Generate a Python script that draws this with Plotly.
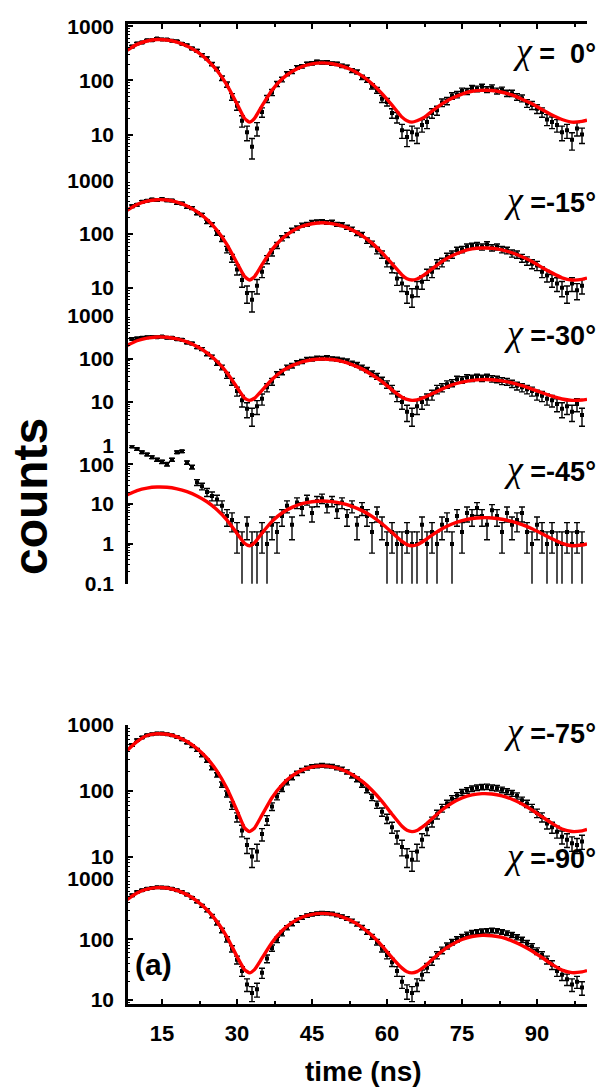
import plotly.graph_objects as go

# ---------------- data ----------------
fit_time = [8, 10, 12, 14, 16, 18, 20, 22, 24, 26, 28, 30, 31.5, 32.5, 33.5, 35, 37, 39, 41, 43,
            45, 47, 49, 51, 53, 55, 57, 59, 61, 63, 64, 65, 66, 67.5, 69, 71, 73, 75, 77, 79,
            81, 83, 85, 87, 89, 91, 93, 95, 97, 99, 100]

fit_chi0 = [357, 461, 533, 566, 557, 509, 432, 338, 241, 152, 82, 37, 20, 17, 20, 34, 66, 106, 146, 180,
            202, 210, 203, 184, 155, 121, 87, 57, 35, 21, 18, 17, 18, 21, 27, 37, 47, 56, 63, 65.5,
            65, 60.5, 54, 45, 37, 29, 23, 19, 17, 17.5, 18.4]
fit_chi15 = [276, 356, 411, 437, 430, 393, 334, 261, 186, 118, 64, 29, 16.3, 14, 16.2, 27, 51.5, 82, 113, 140,
             156, 163, 157, 142, 120, 94, 68, 45, 28, 17.4, 14.8, 14, 14.6, 17.6, 22.5, 31, 39.5, 47.4, 53, 55,
             54.5, 51, 45, 38, 31, 24, 19, 15.4, 14, 14.4, 15.2]
fit_chi30 = [205, 264, 305, 324, 319, 291, 248, 194, 139, 88, 48, 22, 12.4, 11, 12.3, 18.7, 33.4, 52, 70, 86,
             96, 100, 97, 88, 74, 59, 43, 30, 19.3, 13, 11.5, 11, 11.3, 12.9, 15.6, 20, 25, 29, 32, 33.3,
             33, 31, 28, 24, 20, 16.5, 13.7, 11.8, 11, 11.2, 11.6]
fit_chi45 = [16.9, 21.8, 25.2, 26.7, 26.3, 24, 20.4, 16, 11.4, 7.2, 3.96, 1.83, 1.04, 0.9, 1.07, 1.86, 3.68, 5.96, 8.25, 10.2,
             11.4, 11.9, 11.5, 10.4, 8.74, 6.83, 4.9, 3.21, 1.93, 1.15, 0.96, 0.9, 0.95, 1.22, 1.65, 2.39, 3.15, 3.85, 4.33, 4.54,
             4.48, 4.16, 3.65, 3.03, 2.39, 1.8, 1.34, 1.03, 0.9, 0.94, 1.0]
fit_chi75 = [410, 560, 695, 738, 726, 664, 563, 441, 315, 199.5, 108.5, 50, 27.4, 24, 27.2, 42.8, 78.5, 123.5, 168.5, 206.6,
             231, 240, 232, 210.5, 178, 140.5, 102.4, 69.4, 44.2, 28.9, 25.1, 24, 25, 29.8, 37.75, 51.2, 65.25, 78, 86.8, 90.7,
             89.6, 83.8, 74.5, 63, 51.2, 40.5, 32, 26.3, 24.1, 24.7, 25.9]
fit_chi90 = [450, 579, 668, 709, 698, 638, 543, 426, 306, 195, 109, 52, 31.7, 28, 31.6, 48.8, 88.4, 138, 188, 230,
             257, 267, 259, 234.5, 199, 157, 115, 78, 50, 33.5, 29.2, 28, 29.3, 35.6, 46, 64, 82, 99, 111, 116,
             114, 107, 94, 79, 64, 50, 38.5, 31, 28.2, 29, 30.5]

data_time = [9, 10, 11, 12, 13, 14, 15, 16, 17, 18, 19, 20, 21, 22, 23, 24, 25, 26, 27, 28,
             29, 30, 31, 32, 33, 34, 35, 36, 37, 38, 39, 40, 41, 42, 43, 44, 45, 46, 47, 48,
             49, 50, 51, 52, 53, 54, 55, 56, 57, 58, 59, 60, 61, 62, 63, 64, 65, 66, 67, 68,
             69, 70, 71, 72, 73, 74, 75, 76, 77, 78, 79, 80, 81, 82, 83, 84, 85, 86, 87, 88,
             89, 90, 91, 92, 93, 94, 95, 96, 97, 98, 99]

data_chi0 = [420, 478, 500, 548, 552, 590, 570, 566, 538, 525,
             474, 445, 388, 352, 292, 255, 200, 163, 110, 84,
             50, 34, 18, 11, 6, 13, 26, 46, 60, 86,
             104, 133, 146, 174, 182, 202, 206, 220, 214, 215,
             205, 202, 186, 178, 152, 143, 114, 102, 78, 66,
             46, 40, 25, 21, 12, 9, 11, 10, 15, 17,
             25, 28, 39, 42, 52, 55, 64, 63, 72, 70,
             76, 68, 74, 64, 67, 58, 58, 50, 47, 38,
             35, 30, 26, 19, 17, 15, 11, 12, 8, 13,
             10]
data_chi15 = [330, 350, 400, 418, 440, 430, 448, 425, 420, 380,
              372, 320, 305, 245, 228, 170, 150, 105, 82, 52,
              36, 22, 14, 8, 6, 11, 20, 34, 46, 62,
              84, 96, 118, 130, 148, 152, 166, 170, 172, 165,
              168, 152, 150, 135, 124, 104, 98, 76, 66, 50,
              42, 30, 24, 15, 12, 8, 7, 10, 13, 18,
              20, 28, 30, 38, 42, 50, 52, 58, 60, 62,
              58, 64, 56, 58, 52, 50, 44, 42, 36, 32,
              28, 26, 20, 17, 14, 12, 10, 8, 12, 9,
              11]
data_chi30 = [292, 300, 312, 318, 325, 318, 330, 312, 310, 288,
              280, 240, 228, 188, 170, 130, 112, 80, 64, 42,
              30, 18, 11, 7, 5, 8, 12, 22, 30, 44,
              50, 64, 70, 82, 88, 98, 100, 106, 104, 108,
              102, 100, 94, 90, 80, 74, 64, 56, 46, 40,
              32, 26, 20, 14, 10, 6, 5, 8, 10, 12,
              15, 20, 22, 26, 28, 34, 33, 37, 36, 38,
              36, 38, 35, 34, 31, 30, 27, 24, 22, 20,
              18, 15, 14, 12, 11, 9, 7, 8, 6, 9,
              5]
data_chi45 = [280, 240, 200, 175, 150, 130, 115, 100, 130, 200,
              210, 110, 85, 35, 28, 20, 16, 13, 9, 5,
              4, 2, 1, 3, 1, 1, 2, 1, 3, 2,
              5, 9, 3, 11, 8, 13, 6, 12, 14, 9,
              12, 7, 11, 5, 9, 3, 8, 5, 2, 6,
              3, 1, 2, 1, 1, 2, 1, 1, 3, 1,
              2, 1, 3, 4, 1, 5, 2, 6, 5, 8,
              5, 3, 7, 5, 2, 6, 3, 4, 6, 2,
              1, 3, 2, 1, 2, 1, 1, 2, 1, 2,
              1]
data_chi75 = [500, 590, 650, 700, 730, 748, 745, 730, 700, 660,
              610, 545, 480, 420, 350, 290, 225, 175, 125, 90,
              60, 40, 25, 15, 10, 12, 22, 36, 58, 82,
              108, 135, 160, 185, 205, 222, 235, 240, 245, 240,
              238, 225, 215, 195, 170, 150, 125, 104, 80, 62,
              48, 38, 28, 20, 14, 10, 9, 12, 18, 26,
              34, 44, 55, 64, 76, 85, 95, 102, 108, 112,
              115, 116, 112, 110, 104, 98, 92, 84, 72, 64,
              55, 46, 40, 32, 28, 24, 20, 18, 16, 15,
              17]
data_chi90 = [530, 600, 640, 680, 700, 715, 710, 705, 680, 640,
              600, 545, 480, 420, 355, 300, 240, 185, 140, 100,
              70, 46, 30, 18, 13, 15, 28, 48, 72, 98,
              125, 155, 180, 205, 228, 245, 258, 265, 270, 268,
              262, 250, 236, 220, 200, 178, 156, 132, 110, 90,
              70, 55, 42, 30, 20, 14, 13, 18, 26, 34,
              44, 55, 66, 78, 90, 100, 110, 120, 128, 132,
              136, 138, 140, 138, 132, 126, 118, 108, 98, 86,
              76, 64, 55, 46, 38, 30, 26, 22, 18, 20,
              16]

panel_labels = ["\u00a0\u00a00°", "-15°", "-30°", "-45°", "-75°", "-90°"]
x_tick_vals = [15, 30, 45, 60, 75, 90]
x_tick_text = ["15", "30", "45", "60", "75", "90"]

# ---------------- layout helpers ----------------
W, H = 602, 1090
ML, MR, MT, MB = 128, 15, 20, 86
PH = H - MT - MB
PW = W - ML - MR


def fy(px):
    return (H - MB - px) / PH


def fx(px):
    return (px - ML) / PW


panels = [
    dict(fit=fit_chi0, data=data_chi0, dom=[fy(177), 1.0], rng=[0.156, 3.04],
         tv=[10, 100, 1000], tt=["10", "100", "1000"], ly=47),
    dict(fit=fit_chi15, data=data_chi15, dom=[fy(313), fy(177)], rng=[0.48, 3.0],
         tv=[10, 100, 1000], tt=["10", "100", "1000"], ly=197),
    dict(fit=fit_chi30, data=data_chi30, dom=[fy(443), fy(313)], rng=[0.0, 3.0],
         tv=[1, 10, 100, 1000], tt=["1", "10", "100", "1000"], ly=330),
    dict(fit=fit_chi45, data=data_chi45, dom=[fy(582), fy(443)], rng=[-1.0, 2.475],
         tv=[0.1, 1, 10, 100], tt=["0.1", "1", "10", "100"], ly=467),
    dict(fit=fit_chi75, data=data_chi75, dom=[fy(878), fy(724)], rng=[0.667, 3.0],
         tv=[10, 100, 1000], tt=["10", "100", "1000"], ly=730),
    dict(fit=fit_chi90, data=data_chi90, dom=[0.0, fy(878)], rng=[0.934, 3.0],
         tv=[10, 100, 1000], tt=["10", "100", "1000"], ly=855),
]

FONT = "Liberation Sans, Arial, sans-serif"
ytickfont = dict(family=FONT, size=21, color="black", weight="bold")
xtickfont = dict(family=FONT, size=22, color="black", weight="bold")

fig = go.Figure()
layout = dict(
    width=W, height=H,
    margin=dict(l=ML, r=MR, t=MT, b=MB, pad=0),
    paper_bgcolor="white", plot_bgcolor="white",
    showlegend=False,
    font=dict(family=FONT, color="black"),
)

for i, p in enumerate(panels):
    n = i + 1
    yname = "y" if n == 1 else f"y{n}"
    fig.add_trace(go.Scatter(
        x=data_time, y=p["data"], xaxis="x", yaxis=yname, mode="markers",
        marker=dict(symbol="square", size=4, color="black"),
        error_y=dict(type="sqrt", visible=True, color="black", thickness=1.4, width=3),
        hoverinfo="skip"))
    fig.add_trace(go.Scatter(
        x=fit_time, y=p["fit"], xaxis="x", yaxis=yname, mode="lines",
        line=dict(color="#ff0000", width=3.4, shape="spline", smoothing=0.5),
        hoverinfo="skip"))
    layout["yaxis" if n == 1 else f"yaxis{n}"] = dict(
        type="log", domain=p["dom"], range=p["rng"], anchor="x",
        showline=True, linewidth=2.6, linecolor="black",
        ticks="inside", ticklen=5, tickwidth=2, tickcolor="black",
        tickmode="array", tickvals=p["tv"], ticktext=p["tt"],
        tickfont=ytickfont, ticklabelstandoff=7,
        minor=dict(ticks="inside", ticklen=2.5, tickwidth=1, tickcolor="black", dtick="D1"),
        showgrid=False, zeroline=False,
    )
    fig.add_annotation(
        xref="paper", yref="paper", x=fx(598), y=fy(p["ly"]),
        xanchor="right", yanchor="middle", showarrow=False,
        text=('<span style="font-family:Liberation Serif;font-size:36px"><i>\u03c7</i></span>'
              '<b>\u00a0=' + panel_labels[i] + '</b>'),
        font=dict(family=FONT, size=27, color="black"))

# dummy trace so the top mirror axis renders
fig.add_trace(go.Scatter(x=[50], y=[100], xaxis="x2", yaxis="y", mode="markers",
                         marker=dict(opacity=0), hoverinfo="skip"))

xcommon = dict(range=[8.2, 100], showline=True, linewidth=2.6, linecolor="black",
               ticks="inside", ticklen=5, tickwidth=2, tickcolor="black",
               tickmode="array", tickvals=x_tick_vals, ticktext=x_tick_text,
               minor=dict(ticks="inside", ticklen=3, tickwidth=1.5, tickcolor="black",
                          tickvals=[22.5, 37.5, 52.5, 67.5, 82.5, 97.5]),
               showgrid=False, zeroline=False)
layout["xaxis"] = dict(xcommon, domain=[0, 1], anchor="y6", tickfont=xtickfont,
                       ticklabelstandoff=8)
layout["xaxis2"] = dict(xcommon, overlaying="x", anchor="y", side="top",
                        showticklabels=False, matches="x")

fig.update_layout(**layout)

fig.add_annotation(xref="paper", yref="paper", x=fx(30), y=fy(495), text="<b>counts</b>",
                   textangle=-90, showarrow=False, xanchor="center", yanchor="middle",
                   font=dict(family=FONT, size=48, color="black"))
fig.add_annotation(xref="paper", yref="paper", x=fx(363), y=fy(1072), text="<b>time (ns)</b>",
                   showarrow=False, xanchor="center", yanchor="middle",
                   font=dict(family=FONT, size=28, color="black"))
fig.add_annotation(xref="paper", yref="paper", x=fx(153), y=fy(964), text="<b>(a)</b>",
                   showarrow=False, xanchor="center", yanchor="middle",
                   font=dict(family=FONT, size=30, color="black"))

fig.write_html("out.html")
